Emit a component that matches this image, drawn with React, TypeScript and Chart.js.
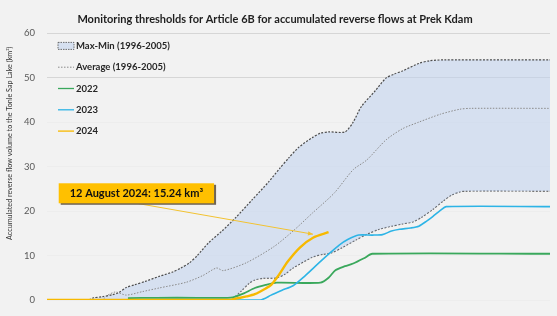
import React, { useEffect, useRef } from 'react';
import { Chart, registerables } from 'chart.js';

Chart.register(...registerables);

// ---- Data (x = days since 1 May) ----
const monthLabels = ['May', 'Jun', 'Jul', 'Aug', 'Sep', 'Oct', 'Nov'];
const monthStartDays = [0, 31, 61, 92, 123, 153, 184];
const yTicks = [0, 10, 20, 30, 40, 50, 60];

const titleText = 'Monitoring thresholds for Article 6B for accumulated reverse flows at Prek Kdam';
const yTitleText = 'Accumulated reverse flow volume to the Tonle Sap Lake (km³)';

const maxDays = [0, 15, 17, 20, 24, 26, 29, 32, 36, 41, 46, 49, 52, 55, 59, 64, 69, 75, 81, 85, 88.5, 92, 97, 100, 103, 109, 112, 115, 120, 124, 127, 130, 136, 140, 145, 184];
const maxValues = [0, 0, 0.5, 0.7, 1.2, 1.6, 2.8, 3.4, 4.2, 5.3, 6.3, 7.2, 8.3, 10, 12.8, 15.5, 18.5, 22.5, 26.5, 29.5, 32, 34.3, 36.5, 37.5, 37.8, 37.8, 40, 43.5, 47, 49.9, 50.8, 51.5, 53.2, 53.8, 54, 54];

const minDays = [0, 67, 68, 71, 74, 76, 79, 84, 87, 90, 97, 101, 104, 108, 113, 117, 121.5, 126, 130, 134, 137, 141, 145, 148, 151, 153, 184];
const minValues = [0, 0, 0.3, 2, 3.8, 4.5, 4.9, 5, 5.8, 7.2, 9.6, 10.3, 10.6, 11.8, 13.5, 14.8, 15.9, 16.6, 17.1, 17.6, 18.6, 20.3, 22.3, 23.6, 24.3, 24.5, 24.5];

const avgDays = [0, 20, 22, 25, 29, 35, 41, 51, 57, 62, 64.5, 73, 83, 90, 97, 105, 112, 117, 124, 130, 136, 144, 151, 155, 184];
const avgValues = [0, 0, 1, 1.8, 1.1, 1.9, 2.7, 4, 5.5, 7.2, 6.6, 8.4, 12, 15.5, 19.5, 24, 29.3, 31.5, 36, 38.5, 40, 41.8, 42.9, 43.1, 43.1];

const y2022Days = [29.6, 40, 55, 66, 68, 72, 76, 80, 84, 100, 103, 105.5, 109, 112, 116, 119, 184];
const y2022Values = [0.4, 0.5, 0.5, 0.5, 0.6, 1.5, 2.7, 3.4, 3.9, 3.9, 5, 6.7, 7.6, 8.2, 9.4, 10.4, 10.4];

const y2023Days = [0, 78, 82, 86, 90, 94, 98, 103, 107, 110, 114, 119, 122.7, 126, 129, 133, 136, 139, 141, 144, 146, 184];
const y2023Values = [0, 0, 1.1, 2.2, 3.2, 5.2, 7.5, 10.3, 12.4, 13.6, 14.6, 14.6, 14.7, 15.5, 15.9, 16.2, 16.6, 17.8, 18.7, 20.2, 21, 21];

const y2024Days = [0, 67, 69, 73, 76, 80, 82, 85, 88, 92.5, 97.3, 103];
const y2024Values = [0, 0, 0.3, 0.8, 1.3, 2.6, 3.4, 5.8, 8.6, 11.8, 14, 15.24];

const legendLabels = ['Max-Min (1996-2005)', 'Average (1996-2005)', '2022', '2023', '2024'];

const calloutText = '12 August 2024: 15.24 km³';
const calloutCenterDay = 32.7;
const calloutCenterValue = 24.0;
const arrowTipDay = 97.3;
const arrowTipValue = 14.8;

// ---- Styles ----
const COLORS = {
  bg: '#f2f2f2',
  band: 'rgba(191,209,238,0.55)',
  bandLine: '#4d4d4d',
  avg: '#8a8a8a',
  c2022: '#3aa85c',
  c2023: '#2db4e6',
  c2024: '#f7b900',
  callout: '#ffc000',
};
const FONT = 'Lato, "Open Sans", "DejaVu Sans", sans-serif';

const pts = (xs: number[], ys: number[]) => xs.map((x, i) => ({ x, y: ys[i] }));

const overlayPlugin = {
  id: 'overlay',
  afterDatasetsDraw(chart: any) {
    const { ctx, chartArea, scales } = chart;
    const xs = scales.x;
    const ys = scales.y;
    ctx.save();

    // Legend
    const lx = chartArea.left + 11;
    const ly0 = chartArea.top + 12.7;
    const step = 21.3;
    ctx.font = `bold 9.5px ${FONT}`;
    ctx.textBaseline = 'middle';
    ctx.textAlign = 'left';
    legendLabels.forEach((lab, i) => {
      const yy = ly0 + i * step;
      if (i === 0) {
        ctx.fillStyle = COLORS.band;
        ctx.fillRect(lx, yy - 3.5, 16, 7);
        ctx.setLineDash([1.5, 1]);
        ctx.strokeStyle = COLORS.bandLine;
        ctx.lineWidth = 0.8;
        ctx.strokeRect(lx, yy - 3.5, 16, 7);
        ctx.setLineDash([]);
      } else {
        ctx.beginPath();
        ctx.moveTo(lx, yy);
        ctx.lineTo(lx + 16, yy);
        if (i === 1) {
          ctx.setLineDash([1.5, 1.5]);
          ctx.strokeStyle = COLORS.avg;
          ctx.lineWidth = 1;
        } else {
          ctx.setLineDash([]);
          ctx.strokeStyle = i === 2 ? COLORS.c2022 : i === 3 ? COLORS.c2023 : COLORS.c2024;
          ctx.lineWidth = 1.3;
        }
        ctx.stroke();
        ctx.setLineDash([]);
      }
      ctx.fillStyle = '#262626';
      ctx.fillText(lab, lx + 18, yy);
    });

    // Callout box + arrow
    ctx.font = `bold 11px ${FONT}`;
    const tw = ctx.measureText(calloutText).width;
    const bw = tw + 22;
    const bh = 20;
    const cx = xs.getPixelForValue(calloutCenterDay);
    const cy = ys.getPixelForValue(calloutCenterValue);
    const bx = cx - bw / 2;
    const by = cy - bh / 2;

    // arrow
    const tx = xs.getPixelForValue(arrowTipDay);
    const ty = ys.getPixelForValue(arrowTipValue);
    const sx = cx;
    const sy = by + bh;
    ctx.strokeStyle = '#f2c230';
    ctx.lineWidth = 1;
    ctx.beginPath();
    ctx.moveTo(sx, sy);
    ctx.lineTo(tx, ty);
    ctx.stroke();
    const ang = Math.atan2(ty - sy, tx - sx);
    ctx.fillStyle = '#f2c230';
    ctx.beginPath();
    ctx.moveTo(tx, ty);
    ctx.lineTo(tx - 5 * Math.cos(ang) + 2.2 * Math.sin(ang), ty - 5 * Math.sin(ang) - 2.2 * Math.cos(ang));
    ctx.lineTo(tx - 5 * Math.cos(ang) - 2.2 * Math.sin(ang), ty - 5 * Math.sin(ang) + 2.2 * Math.cos(ang));
    ctx.closePath();
    ctx.fill();

    ctx.fillStyle = '#6e6456';
    ctx.fillRect(bx + 2, by + 1.5, bw, bh);
    ctx.fillStyle = COLORS.callout;
    ctx.fillRect(bx, by, bw, bh);
    ctx.fillStyle = '#111';
    ctx.textAlign = 'center';
    ctx.textBaseline = 'middle';
    ctx.fillText(calloutText, cx, cy + 0.5);

    ctx.restore();
  },
  afterDraw(chart: any) {
    const { ctx, chartArea } = chart;
    ctx.save();
    ctx.translate(10, chartArea.top + 110);
    ctx.rotate(-Math.PI / 2);
    ctx.font = `7.2px ${FONT}`;
    ctx.fillStyle = '#333';
    ctx.textAlign = 'center';
    ctx.textBaseline = 'middle';
    ctx.fillText(yTitleText, 0, 0);
    ctx.restore();
  },
};

export default function App() {
  const ref = useRef<HTMLCanvasElement | null>(null);

  useEffect(() => {
    document.body.style.margin = '0';
    document.body.style.overflow = 'hidden';
    const canvas = ref.current;
    if (!canvas) return;
    const lineBase = { pointRadius: 0, pointHoverRadius: 0, tension: 0.25 };
    const chart = new Chart(canvas, {
      type: 'line',
      data: {
        datasets: [
          {
            ...lineBase,
            label: 'Max (1996-2005)',
            data: pts(maxDays, maxValues),
            borderColor: COLORS.bandLine,
            borderWidth: 1.2,
            borderDash: [2, 1.5],
            backgroundColor: COLORS.band,
            fill: '+1',
            order: 5,
          },
          {
            ...lineBase,
            label: 'Min (1996-2005)',
            data: pts(minDays, minValues),
            borderColor: COLORS.bandLine,
            borderWidth: 1.2,
            borderDash: [2, 1.5],
            fill: false,
            order: 5,
          },
          {
            ...lineBase,
            label: 'Average (1996-2005)',
            data: pts(avgDays, avgValues),
            borderColor: COLORS.avg,
            borderWidth: 1,
            borderDash: [1.5, 1.5],
            fill: false,
            order: 4,
          },
          {
            ...lineBase,
            label: '2022',
            data: pts(y2022Days, y2022Values),
            borderColor: COLORS.c2022,
            borderWidth: 1.8,
            fill: false,
            order: 3,
          },
          {
            ...lineBase,
            label: '2023',
            data: pts(y2023Days, y2023Values),
            borderColor: COLORS.c2023,
            borderWidth: 1.6,
            fill: false,
            order: 2,
          },
          {
            ...lineBase,
            label: '2024',
            data: pts(y2024Days, y2024Values),
            borderColor: COLORS.c2024,
            borderWidth: 2.4,
            fill: false,
            order: 1,
          },
        ],
      },
      options: {
        responsive: false,
        animation: false,
        layout: { padding: { left: 0, right: 7, top: 0, bottom: 0 } },
        plugins: {
          legend: { display: false },
          tooltip: { enabled: false },
          title: {
            display: true,
            text: titleText,
            color: '#1f1f1f',
            font: { family: FONT, size: 11, weight: 'bold' },
            padding: { top: 13, bottom: 7 },
          },
        },
        scales: {
          x: {
            type: 'linear',
            min: 0,
            max: 184,
            afterBuildTicks: (s: any) => {
              s.ticks = monthStartDays.map((v) => ({ value: v }));
            },
            afterFit: (s: any) => {
              s.height = 24;
              s.paddingLeft = 0;
              s.paddingRight = 0;
            },
            ticks: {
              autoSkip: false,
              maxRotation: 0,
              padding: 8,
              color: '#333',
              font: { family: FONT, size: 9.5, weight: 'bold' },
              callback: (v: any) => monthLabels[monthStartDays.indexOf(Number(v))] ?? '',
            },
            grid: { display: false },
            border: { display: false },
          },
          y: {
            min: 0,
            max: 60,
            afterBuildTicks: (s: any) => {
              s.ticks = yTicks.map((v) => ({ value: v }));
            },
            afterFit: (s: any) => {
              s.width = 47;
            },
            ticks: {
              padding: 12,
              color: '#595959',
              font: { family: FONT, size: 9.5 },
            },
            grid: {
              drawTicks: false,
              color: (c: any) => (c.tick && c.tick.value >= 50 ? '#d6d6d6' : 'rgba(0,0,0,0.02)'),
              lineWidth: 1,
            },
            border: { display: false },
          },
        },
      },
      plugins: [overlayPlugin],
    });
    return () => chart.destroy();
  }, []);

  return (
    <div style={{ width: 557, height: 324, background: COLORS.bg, overflow: 'hidden' }}>
      <canvas ref={ref} width={557} height={324} style={{ display: 'block' }} />
    </div>
  );
}
